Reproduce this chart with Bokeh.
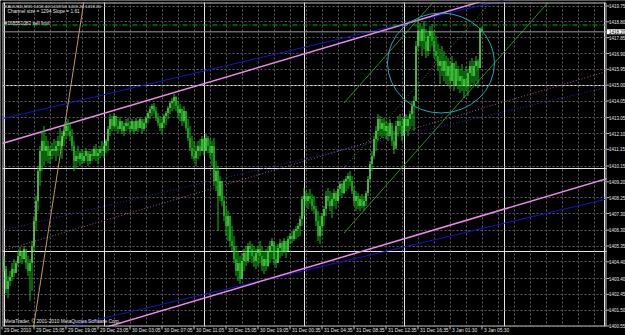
from bokeh.plotting import figure
from bokeh.models import Range1d, FixedTicker, Grid
from bokeh.core.properties import value
from bokeh.embed import file_html
from bokeh.resources import INLINE

# ---------------- data (XAUUSD M15) ----------------
high = [
1404.75, 1403.97, 1403.55, 1403.85, 1404.33, 1404.57, 1404.45, 1405.05, 1405.29, 1405.05,
1405.35, 1405.05, 1404.75, 1404.57, 1405.65, 1407.15, 1408.35, 1410.15, 1411.35, 1412.25,
1412.55, 1411.95, 1411.65, 1411.35, 1411.53, 1411.77, 1411.65, 1411.95, 1412.43, 1412.25,
1412.55, 1412.85, 1412.97, 1412.73, 1412.37, 1411.65, 1411.05, 1411.35, 1411.05, 1411.17,
1411.05, 1411.23, 1410.93, 1411.05, 1411.17, 1411.35, 1411.47, 1411.17, 1411.35, 1411.65,
1411.53, 1411.77, 1412.55, 1413.27, 1413.15, 1413.33, 1413.15, 1412.97, 1413.09, 1412.85,
1412.73, 1412.97, 1413.03, 1412.85, 1412.97, 1412.79, 1413.03, 1412.91, 1413.09, 1412.85,
1412.97, 1413.15, 1413.45, 1413.75, 1413.87, 1413.93, 1413.69, 1413.33, 1413.15, 1412.97,
1413.27, 1413.45, 1413.75, 1414.05, 1414.23, 1414.47, 1414.35, 1414.05, 1413.87, 1413.57,
1413.75, 1413.45, 1412.97, 1412.55, 1411.95, 1411.65, 1411.35, 1411.65, 1411.77, 1411.95,
1411.83, 1412.07, 1411.95, 1411.77, 1411.65, 1411.83, 1410.45, 1410.15, 1409.55, 1409.25,
1408.35, 1407.75, 1407.45, 1407.15, 1406.55, 1405.95, 1405.35, 1405.05, 1404.75, 1404.93,
1405.17, 1405.35, 1405.53, 1405.65, 1405.47, 1405.35, 1405.17, 1405.35, 1405.65, 1405.35,
1405.05, 1405.17, 1405.35, 1405.65, 1405.83, 1405.53, 1405.35, 1405.47, 1405.77, 1405.65,
1405.83, 1405.65, 1405.95, 1406.13, 1406.25, 1406.37, 1406.55, 1406.73, 1407.15, 1408.35,
1408.83, 1408.65, 1408.53, 1408.77, 1408.47, 1408.35, 1407.75, 1407.45, 1407.15, 1407.33,
1407.75, 1408.65, 1408.83, 1408.65, 1408.53, 1408.77, 1408.65, 1408.95, 1409.25, 1409.13,
1409.37, 1409.55, 1409.73, 1409.85, 1409.55, 1408.95, 1408.65, 1408.53, 1408.35, 1408.47,
1408.35, 1408.65, 1409.55, 1410.45, 1411.05, 1411.95, 1412.55, 1413.27, 1413.15, 1412.97,
1413.03, 1412.85, 1412.73, 1412.97, 1412.55, 1412.25, 1412.85, 1413.15, 1413.27, 1412.97,
1413.15, 1413.27, 1413.15, 1413.45, 1414.05, 1414.35, 1417.65, 1418.85, 1418.73, 1418.55,
1418.85, 1418.37, 1418.25, 1418.55, 1418.67, 1418.25, 1417.95, 1417.47, 1417.17, 1417.35,
1417.05, 1416.75, 1416.63, 1416.45, 1416.75, 1416.33, 1416.45, 1416.15, 1415.97, 1416.27,
1415.85, 1416.15, 1415.97, 1416.45, 1416.63, 1416.45, 1416.75, 1416.57, 1418.45, 1418.50,
]
low = [
1403.85, 1402.53, 1402.23, 1402.95, 1403.25, 1403.49, 1403.73, 1404.15, 1404.33, 1404.27,
1404.57, 1403.97, 1403.55, 1402.05, 1402.65, 1405.05, 1406.25, 1407.45, 1408.95, 1409.85,
1410.15, 1410.45, 1410.33, 1410.27, 1410.57, 1410.75, 1410.45, 1410.75, 1411.05, 1410.57,
1411.35, 1411.77, 1411.95, 1411.65, 1411.05, 1409.85, 1409.97, 1410.33, 1410.15, 1410.27,
1410.33, 1410.45, 1410.15, 1410.27, 1410.45, 1410.57, 1410.45, 1410.27, 1410.63, 1410.75,
1410.63, 1410.93, 1411.05, 1411.95, 1412.25, 1412.37, 1412.25, 1412.13, 1412.37, 1412.07,
1411.95, 1412.25, 1412.37, 1412.13, 1412.25, 1412.07, 1412.37, 1412.19, 1412.43, 1412.07,
1412.25, 1412.43, 1412.73, 1412.97, 1413.15, 1413.27, 1412.85, 1412.55, 1412.25, 1412.07,
1412.43, 1412.61, 1412.97, 1413.27, 1413.45, 1413.57, 1413.45, 1413.03, 1412.85, 1412.55,
1412.73, 1412.25, 1411.65, 1411.05, 1410.57, 1410.45, 1410.15, 1410.57, 1410.75, 1411.05,
1410.75, 1411.05, 1410.93, 1410.63, 1410.15, 1408.95, 1408.65, 1406.25, 1408.05, 1407.75,
1406.85, 1405.95, 1405.65, 1405.35, 1405.05, 1404.33, 1403.55, 1403.25, 1403.07, 1403.37,
1403.85, 1404.15, 1404.33, 1404.57, 1404.33, 1404.09, 1403.97, 1404.15, 1404.33, 1403.85,
1403.67, 1403.85, 1404.09, 1404.33, 1404.57, 1404.21, 1404.03, 1404.33, 1404.63, 1404.75,
1404.93, 1404.63, 1405.05, 1405.47, 1405.53, 1405.65, 1405.77, 1405.89, 1405.95, 1406.55,
1407.15, 1407.75, 1407.57, 1407.87, 1407.45, 1407.33, 1406.55, 1405.65, 1405.47, 1405.95,
1406.55, 1407.15, 1407.75, 1407.45, 1407.03, 1407.75, 1407.57, 1408.05, 1408.35, 1408.23,
1408.47, 1408.65, 1408.77, 1408.95, 1408.47, 1407.75, 1407.45, 1407.57, 1407.45, 1407.63,
1407.45, 1407.75, 1408.35, 1409.25, 1409.85, 1410.57, 1411.05, 1411.65, 1411.95, 1411.83,
1411.95, 1411.77, 1411.65, 1412.07, 1411.35, 1410.87, 1411.35, 1411.95, 1412.25, 1411.65,
1412.07, 1412.25, 1411.95, 1412.37, 1412.55, 1412.25, 1414.05, 1417.05, 1417.35, 1416.75,
1417.17, 1416.63, 1416.75, 1417.05, 1417.35, 1416.63, 1416.45, 1415.85, 1415.07, 1415.55,
1415.25, 1415.07, 1414.95, 1414.77, 1415.25, 1414.65, 1414.95, 1414.77, 1414.53, 1414.65,
1414.23, 1414.65, 1414.35, 1414.83, 1415.13, 1414.95, 1415.25, 1414.83, 1416.03, 1418.20,
]
close = [
1404.15, 1402.77, 1403.25, 1403.49, 1403.97, 1403.73, 1404.33, 1404.75, 1405.05, 1404.57,
1405.17, 1404.33, 1403.85, 1404.33, 1405.35, 1406.85, 1408.05, 1409.85, 1411.05, 1411.65,
1411.05, 1411.35, 1410.75, 1411.05, 1411.17, 1411.05, 1411.35, 1411.65, 1411.35, 1411.95,
1412.25, 1412.55, 1412.25, 1411.95, 1411.35, 1410.45, 1410.75, 1410.57, 1410.93, 1410.45,
1410.75, 1411.05, 1410.45, 1410.87, 1410.75, 1411.17, 1410.75, 1410.93, 1411.17, 1411.05,
1411.35, 1411.65, 1412.37, 1412.97, 1412.55, 1413.15, 1412.55, 1412.37, 1412.85, 1412.25,
1412.55, 1412.73, 1412.55, 1412.37, 1412.85, 1412.25, 1412.85, 1412.43, 1412.97, 1412.37,
1412.73, 1413.03, 1413.33, 1413.57, 1413.75, 1413.45, 1413.03, 1412.73, 1412.43, 1412.73,
1413.15, 1413.33, 1413.63, 1413.93, 1414.05, 1414.29, 1413.75, 1413.33, 1413.57, 1412.85,
1413.45, 1412.43, 1411.83, 1411.23, 1410.75, 1410.63, 1411.05, 1411.35, 1411.05, 1411.77,
1411.05, 1411.83, 1411.35, 1410.93, 1411.35, 1409.25, 1409.85, 1408.35, 1409.25, 1408.05,
1407.15, 1406.55, 1407.15, 1405.65, 1405.35, 1404.57, 1403.85, 1404.33, 1403.37, 1404.45,
1404.93, 1404.45, 1405.35, 1405.17, 1404.75, 1404.45, 1404.93, 1405.17, 1404.75, 1404.15,
1404.57, 1404.15, 1405.05, 1405.35, 1405.65, 1404.57, 1404.33, 1405.23, 1405.53, 1405.05,
1405.65, 1405.05, 1405.77, 1405.95, 1405.77, 1406.25, 1406.37, 1406.55, 1406.97, 1408.17,
1408.35, 1408.05, 1408.35, 1408.17, 1407.75, 1407.57, 1406.85, 1405.95, 1406.55, 1407.15,
1407.57, 1408.35, 1408.05, 1407.75, 1408.17, 1408.53, 1408.05, 1408.77, 1409.07, 1408.53,
1409.25, 1409.37, 1409.55, 1409.25, 1408.65, 1408.05, 1408.35, 1407.75, 1408.17, 1407.75,
1408.05, 1408.53, 1409.37, 1410.27, 1410.75, 1411.77, 1412.25, 1412.97, 1412.37, 1412.73,
1412.25, 1412.55, 1411.95, 1412.73, 1411.65, 1411.17, 1412.55, 1412.85, 1412.55, 1411.95,
1412.97, 1412.55, 1412.97, 1413.27, 1413.75, 1414.05, 1417.35, 1418.25, 1417.65, 1418.37,
1417.65, 1417.05, 1417.95, 1418.25, 1417.65, 1417.05, 1416.75, 1416.15, 1416.45, 1415.85,
1416.45, 1415.55, 1416.15, 1415.25, 1416.33, 1414.95, 1415.97, 1415.25, 1415.55, 1414.95,
1415.37, 1414.95, 1415.73, 1416.15, 1415.55, 1416.15, 1416.45, 1416.03, 1418.40, 1418.20,
]
first_open = 1404.45

time_tick_bars = [-1, 15, 31, 47, 63, 79, 95, 111, 127, 143, 159, 175, 191, 207, 223, 239]
time_labels = ["29 Dec 2010", "29 Dec 15:05", "29 Dec 19:05", "29 Dec 23:05",
               "30 Dec 03:05", "30 Dec 07:05", "30 Dec 11:05", "30 Dec 15:05",
               "30 Dec 19:05", "31 Dec 00:35", "31 Dec 04:35", "31 Dec 08:35",
               "31 Dec 12:35", "31 Dec 16:35", "3 Jan 01:30", "3 Jan 05:30"]
price_labels = ["1419.75", "1418.80", "1417.85", "1416.90", "1415.95", "1415.00",
                "1414.05", "1413.05", "1412.10", "1411.15", "1410.15", "1409.20",
                "1408.25", "1407.30", "1406.30", "1405.35", "1404.40", "1403.40",
                "1402.45", "1401.50", "1400.55"]
price_ticks = [float(s) for s in price_labels]
grid_bars = [8 * k - 1 for k in range(39)]

# drawn objects (anchors)
pink_slope = 0.0356          # price per bar
pink_upper_at0 = 1411.53
pink_lower_at0 = 1398.66
blue_slope = 0.0284
blue_upper_at0 = 1413.01
blue_lower_at0 = 1399.61
green_start_bar = 170
green_start_prices = [1413.93, 1410.03, 1406.13]
green_slope = 0.1356
green_end_bar = 300
orange_bars = [15, 40]
orange_prices = [1400.67, 1420.05]
ellipse_bar, ellipse_price, ellipse_w, ellipse_h = 218.5, 1416.33, 53.5, 6.0
sell_limit_price = 1418.61
bid_price = 1418.20
bid_text = "1418.20"
header = "XAUUSD,M15  1418.40 1418.50 1418.20 1418.20"
channel_text = "Channel size = 1294  Slope = 1.61"
order_text = "#168551082 sell limit"
copyright_text = "MetaTrader, \u00a9 2001-2010 MetaQuotes Software Corp."

# ---------------- layout of the chart box ----------------
W, H = 625, 335
BOX_L, BOX_R, BOX_T, BOX_B = 2, 606, 2, 326      # chart box in page pixels
X0, X1 = -0.75, 301.25                            # bars at box edges
Y0, Y1 = 1400.52, 1419.96                         # prices at box edges
bpp = (X1 - X0) / (BOX_R - BOX_L)                 # bars per pixel
ppp = (Y1 - Y0) / (BOX_B - BOX_T)                 # price per pixel
XR0, XR1 = X0 - BOX_L * bpp, X1 + (W - BOX_R) * bpp
YR1, YR0 = Y1 + BOX_T * ppp, Y0 - (H - BOX_B) * ppp

p = figure(width=W, height=H, output_backend="svg", toolbar_location=None,
           x_range=Range1d(XR0, XR1), y_range=Range1d(YR0, YR1),
           x_axis_location=None, y_axis_location=None,
           min_border=0, min_border_left=0, min_border_right=0,
           min_border_top=0, min_border_bottom=0)
p.background_fill_color = "black"
p.border_fill_color = "black"
p.outline_line_color = None

FONT = value("Liberation Sans")
TXT = "#e6e6e6"
FRAME = "#c0c0c0"

p.add_layout(Grid(dimension=0, ticker=FixedTicker(ticks=grid_bars), grid_line_color="#5c5c5c",
                  grid_line_dash="2 2", grid_line_width=1))
p.add_layout(Grid(dimension=1, ticker=FixedTicker(ticks=price_ticks), grid_line_color="#5c5c5c",
                  grid_line_dash="2 2", grid_line_width=1))

# ---- straight lines (drawn over the whole width, masked outside the box) ----
xa, xb = XR0, XR1
def line_pts(slope, at0):
    return at0 + slope * xa, at0 + slope * xb

for at0, col, w, dash in [
        (blue_upper_at0, "#1414c8", 1, "solid"),
        (blue_lower_at0, "#1414c8", 1, "solid"),
        ((blue_upper_at0 + blue_lower_at0) / 2, "#2828b4", 1, "1 2")]:
    ya, yb = line_pts(blue_slope, at0)
    p.segment(x0=[xa], y0=[ya], x1=[xb], y1=[yb], line_color=col, line_width=w, line_dash=dash)
for at0, col, w, dash in [
        (pink_upper_at0, "#ee88ee", 1.5, "solid"),
        (pink_lower_at0, "#ee88ee", 1.5, "solid"),
        ((pink_upper_at0 + pink_lower_at0) / 2, "#a05aa0", 1, "1 2")]:
    ya, yb = line_pts(pink_slope, at0)
    p.segment(x0=[xa], y0=[ya], x1=[xb], y1=[yb], line_color=col, line_width=w, line_dash=dash)

og = (orange_prices[1] - orange_prices[0]) / (orange_bars[1] - orange_bars[0])
p.segment(x0=[orange_bars[0] - 12], y0=[orange_prices[0] - 12 * og],
          x1=[orange_bars[1] + 5], y1=[orange_prices[1] + 5 * og],
          line_color="#bf9a5a", line_width=1)

gend = [v + green_slope * (green_end_bar - green_start_bar) for v in green_start_prices]
p.segment(x0=[green_start_bar, green_start_bar], y0=[green_start_prices[0], green_start_prices[2]],
          x1=[green_end_bar, green_end_bar], y1=[gend[0], gend[2]],
          line_color="#2f8a2f", line_width=1)
p.segment(x0=[green_start_bar], y0=[green_start_prices[1]], x1=[green_end_bar], y1=[gend[1]],
          line_color="#2f8a2f", line_width=1, line_dash="1 2")

p.segment(x0=[X0], y0=[sell_limit_price], x1=[X1], y1=[sell_limit_price],
          line_color="#00b400", line_width=1, line_dash="5 2 1 2")
p.segment(x0=[X0], y0=[bid_price], x1=[X1], y1=[bid_price], line_color="#9a9a9a", line_width=1)

# ---- candles ----
n = len(close)
bars = list(range(n))
opens = [first_open] + close[:-1]
body_colors = ["#8cff78" if c >= o else "#26e026" for o, c in zip(opens, close)]
p.segment(x0=bars, y0=low, x1=bars, y1=high, line_color="#12c212", line_width=1)
p.segment(x0=bars, y0=opens, x1=bars, y1=close, line_color=body_colors, line_width=1)

p.ellipse(x=[ellipse_bar], y=[ellipse_price], width=[ellipse_w], height=[ellipse_h],
          fill_color=None, line_color="#22a8b8", line_width=1)

# ---- mask outside the chart box ----
p.quad(left=[X1, XR0, XR0, XR0], right=[XR1, XR1, XR1, X0],
       bottom=[YR0, YR0, Y1, YR0], top=[YR1, Y0, YR1, YR1],
       fill_color="black", line_color=None)

# ---- frame and tick marks ----
p.quad(left=[X0 + 0.5 * bpp], right=[X1 - 0.5 * bpp], bottom=[Y0 + 0.5 * ppp], top=[Y1 - 0.5 * ppp],
       fill_color=None, line_color=FRAME, line_width=1)
p.segment(x0=[X1] * len(price_ticks), x1=[X1 + 3 * bpp] * len(price_ticks),
          y0=price_ticks, y1=price_ticks, line_color=FRAME, line_width=1)
p.segment(x0=time_tick_bars, x1=time_tick_bars, y0=[Y0] * len(time_tick_bars),
          y1=[Y0 - 3 * ppp] * len(time_tick_bars), line_color=FRAME, line_width=1)

# ---- texts ----
p.text(x=[X1] * len(price_ticks), y=price_ticks, text=price_labels, x_offset=2.5,
       text_font=FONT, text_font_size="4.5px", text_color=TXT,
       text_align="left", text_baseline="middle")
p.text(x=time_tick_bars, y=[Y0] * len(time_tick_bars), text=time_labels, x_offset=2, y_offset=4,
       text_font=FONT, text_font_size="4.8px", text_color=TXT,
       text_align="left", text_baseline="middle")
p.quad(left=[X1 + 0.5 * bpp], right=[XR1], bottom=[bid_price - 2.5 * ppp], top=[bid_price + 2.5 * ppp],
       fill_color="white", line_color=None)
p.text(x=[X1], y=[bid_price], text=[bid_text], x_offset=2.5,
       text_font=FONT, text_font_size="4.5px", text_color="black",
       text_align="left", text_baseline="middle")

p.text(x=[X0], y=[1419.75], text=[header], x_offset=2, text_font=FONT, text_font_size="4.4px",
       text_color=TXT, text_align="left", text_baseline="middle")
p.text(x=[X0], y=[1419.42], text=[channel_text], x_offset=5, text_font=FONT, text_font_size="4.8px",
       text_color=TXT, text_align="left", text_baseline="middle")
p.text(x=[X0], y=[1418.70], text=[order_text], x_offset=2, text_font=FONT, text_font_size="4.8px",
       text_color=TXT, text_align="left", text_baseline="middle")
p.text(x=[X0], y=[1400.85], text=[copyright_text], x_offset=2, text_font=FONT, text_font_size="4.8px",
       text_color=TXT, text_align="left", text_baseline="middle")

open("out.html", "w").write(file_html(p, INLINE))
